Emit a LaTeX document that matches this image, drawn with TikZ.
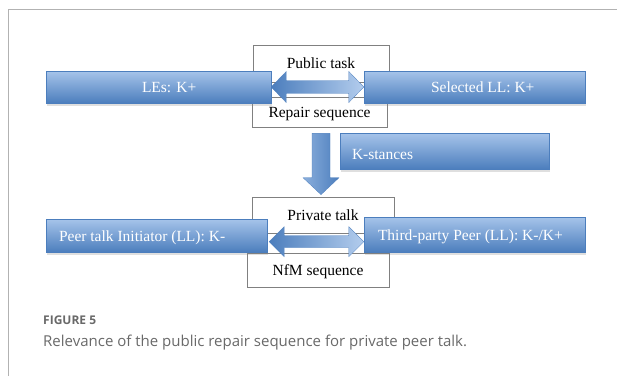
\documentclass[tikz,border=0pt]{standalone}
\usepackage{fontspec}
\setmainfont{Liberation Serif}
\newfontfamily\capfont{Open Sans}
\usetikzlibrary{calc, positioning, shadows}

\definecolor{boxtop}{RGB}{166,196,234}
\definecolor{boxbot}{RGB}{76,126,189}
\definecolor{framegray}{RGB}{178,178,178}
\definecolor{capgray}{RGB}{105,105,105}

\begin{document}
\begin{tikzpicture}[x=1pt, y=-1pt,
    every node/.style={font=\fontsize{15.5}{18}\selectfont},
    bluebox/.style={rectangle, top color=boxtop, bottom color=boxbot, draw=boxbot,
        line width=0.4pt, inner sep=0pt,
        drop shadow={shadow xshift=0.5pt, shadow yshift=-2.5pt, opacity=0.25}},
    whitebox/.style={rectangle, draw=gray, fill=white, line width=0.7pt, inner sep=0pt,
        text height=10.5pt, text depth=0pt},
    boxtext/.style={text=white, inner sep=0pt, text height=10.5pt, text depth=0pt},
    harrow/.style={left color=boxbot, right color=boxtop!85!white, draw=boxbot, line width=0.3pt},
    varrow/.style={left color=boxtop!70!boxbot, right color=boxbot, draw=boxbot, line width=0.3pt},
    captext/.style={anchor=base west, inner sep=0pt, text=capgray}]
    \useasboundingbox (0,0) rectangle (617,376);
    % Rahmen
    \draw[framegray, line width=1.2pt] (8.5,376) -- (8.5,9.5) -- (617,9.5);

    % weisse Kaesten
    \node[whitebox, minimum width=136pt, minimum height=37pt] (pub) at (321,63.5) {Public task};
    \node[whitebox, minimum width=135pt, minimum height=30pt] (rep) at (319.5,112) {Repair sequence};
    \node[whitebox, minimum width=142pt, minimum height=36pt] (priv) at (323,215) {Private talk};
    \node[whitebox, minimum width=142pt, minimum height=34pt] (nfm) at (318,270) {NfM sequence};

    % blaue Kaesten
    \node[bluebox, minimum width=225pt, minimum height=32pt] (les) at (158.5,87) {};
    \node[bluebox, minimum width=221pt, minimum height=32pt] (sel) at (474.5,87) {};
    \node[bluebox, minimum width=209pt, minimum height=36pt] (kst) at (444.5,151) {};
    \node[bluebox, minimum width=221pt, minimum height=33pt] (ini) at (156.5,235.5) {};
    \node[bluebox, minimum width=221pt, minimum height=35pt] (thp) at (474.5,234.5) {};

    \node[boxtext, right=96pt of les.west] (lestext) {LEs: K+};
    \node[boxtext, right=67pt of sel.west] (seltext) {Selected LL: K+};
    \node[boxtext, right=12pt of kst.west, yshift=-3pt] (kstext) {K-stances};
    \node[boxtext, right=13pt of ini.west, yshift=-1pt] (initext) {Peer talk Initiator (LL): K-};
    \node[boxtext, right=14pt of thp.west, yshift=-1pt] (thptext) {Third-party Peer (LL): K-/K+};

    % Doppelpfeile
    \coordinate (a1) at (les.east);
    \coordinate (b1) at (sel.west);
    \draw[harrow] (a1) -- ++(15,-15.5) -- ++(0,9.2) -- ($(b1)+(-15,-6.3)$) -- ++(0,-9.2)
        -- (b1) -- ++(-15,15.5) -- ++(0,-9.2) -- ($(a1)+(15,6.3)$) -- ++(0,9.2) -- cycle;
    \coordinate (a2) at ($(ini.east)+(2,6.2)$);
    \coordinate (b2) at ($(thp.west)+(0,7.2)$);
    \draw[harrow] (a2) -- ++(15,-15) -- ++(0,9) -- ($(b2)+(-15,-6)$) -- ++(0,-9)
        -- (b2) -- ++(-15,15) -- ++(0,-9) -- ($(a2)+(15,6)$) -- ++(0,9) -- cycle;

    % Pfeil nach unten
    \coordinate (dtop) at ($(rep.south)+(1.5,6)$);
    \coordinate (dtip) at ($(priv.north)+(-2,-2)$);
    \draw[varrow] ($(dtop)+(-9,0)$) -- ($(dtip)+(-9,-17)$) -- ++(-9,0) -- (dtip)
        -- ($(dtip)+(18,-17)$) -- ++(-9,0) -- ($(dtop)+(9,0)$) -- cycle;

    % Bildunterschrift
    \node[captext, font=\capfont\bfseries\fontsize{12}{14}\selectfont] (fig) at (43,324) {FIGURE 5};
    \node[captext, font=\capfont\fontsize{15}{18}\selectfont] (cap) at (43,346.5)
        {Relevance of the public repair sequence for private peer talk.};
\end{tikzpicture}
\end{document}
